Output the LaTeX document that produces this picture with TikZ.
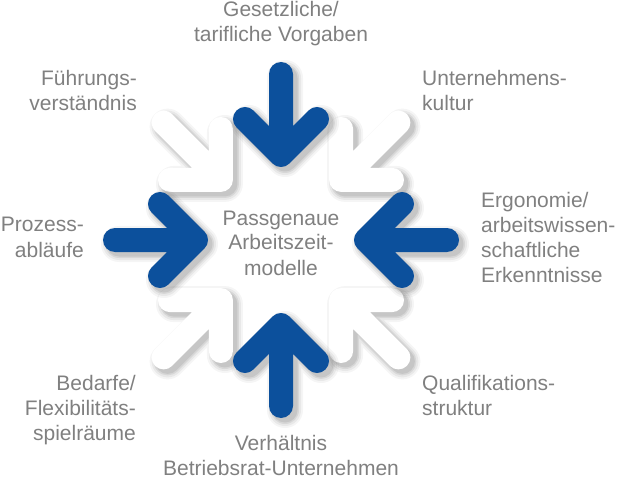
\documentclass[tikz,border=0pt]{standalone}
\usepackage{fontspec}
\setmainfont{Liberation Sans}
\definecolor{abblue}{RGB}{12,80,156}
\definecolor{abtext}{RGB}{128,128,128}
\tikzset{
  armline/.style={line cap=round, line join=round},
  lbl/.style={text=abtext, font=\fontsize{21}{25}\selectfont, inner sep=0pt, anchor=base},
}
% arrow geometry in local frame, pointing towards +x (the centre)
\newcommand\abpath{(-166,0) -- (-85,0) (-121,36) -- (-85,0) -- (-121,-36)}
\newcommand\abshadow[1]{%
  \begin{scope}[shift={(285,236)}, rotate=#1]
    \draw[armline, black, opacity=0.04, line width=36pt] \abpath;
    \draw[armline, black, opacity=0.05, line width=32pt] \abpath;
    \draw[armline, black, opacity=0.07, line width=28pt] \abpath;
    \draw[armline, black, opacity=0.08, line width=25pt] \abpath;
  \end{scope}}
\newcommand\abarrow[2]{%
  \begin{scope}[shift={(281,240)}, rotate=#1]
    \draw[armline, #2, line width=24pt] \abpath;
  \end{scope}}
\begin{document}
\begin{tikzpicture}[x=1pt, y=1pt]
\useasboundingbox[fill=white] (0,0) rectangle (621,480);
% white diagonal arrows
\foreach \a in {-45,-135,45,135}{\abshadow{\a}}
\foreach \a in {-45,-135,45,135}{\abarrow{\a}{white}}
% blue arrows
\foreach \a in {0,-90,180,90}{\abshadow{\a}}
\foreach \a in {0,-90,180,90}{\abarrow{\a}{abblue}}
% labels (base anchor = baseline of the last line)
\node[lbl, align=center] (centre) at (281,205) {Passgenaue\\Arbeitszeit-\\modelle};
\node[lbl, align=center] (top) at (281,438) {Gesetzliche/\\tarifliche Vorgaben};
\node[lbl, align=right, anchor=base east] (tl) at (137,369) {Führungs-\\verständnis};
\node[lbl, align=left, anchor=base west] (tr) at (422,369) {Unternehmens-\\kultur};
\node[lbl, align=right, anchor=base east] (left) at (84,223) {Prozess-\\abläufe};
\node[lbl, align=left, anchor=base west] (right) at (481,198) {Ergonomie/\\arbeitswissen-\\schaftliche\\Erkenntnisse};
\node[lbl, align=right, anchor=base east] (bl) at (136,40) {Bedarfe/\\Flexibilitäts-\\spielräume};
\node[lbl, align=left, anchor=base west] (br) at (422,65) {Qualifikations-\\struktur};
\node[lbl, align=center] (bottom) at (281,5) {Verhältnis\\Betriebsrat-Unternehmen};
\end{tikzpicture}
\end{document}
